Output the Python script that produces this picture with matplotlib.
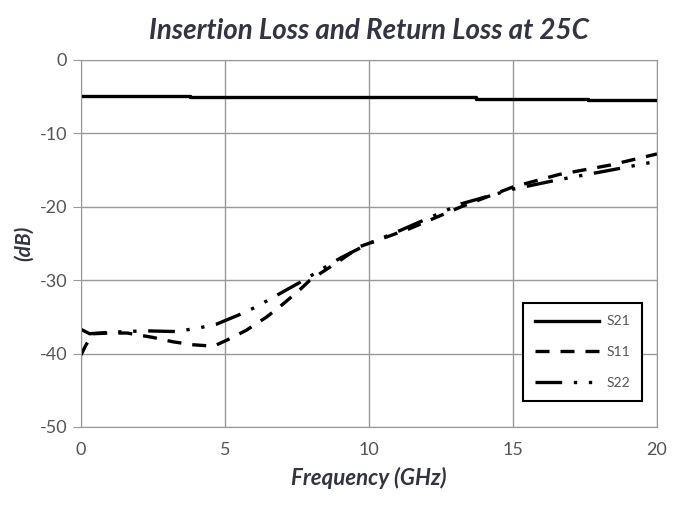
import matplotlib.pyplot as plt
import numpy as np

plt.rcParams['axes.unicode_minus'] = False
plt.rcParams['font.family'] = ['Lato', 'DejaVu Sans']

# frequency points (GHz) and curves
freq_s21 = [0, 3.8, 3.8, 13.7, 13.7, 17.6, 17.6, 20]
s21 = [-4.9, -4.9, -5.1, -5.1, -5.3, -5.3, -5.5, -5.5]

freq_s11 = [0, 0.15, 0.4, 1.0, 1.6, 2.5, 3.2, 3.9, 4.6, 5.1, 5.75, 6.45, 7.0,
            7.6, 7.95, 9.0, 9.7, 11.4, 13.2, 15.0, 16.6, 18.4, 20]
s11 = [-40.2, -39.0, -37.3, -37.2, -37.2, -37.8, -38.4, -38.8, -39.0, -38.1,
       -36.8, -35.0, -33.3, -31.3, -30.0, -27.3, -25.4, -23.0, -20.0, -17.3,
       -15.6, -14.3, -12.8]

freq_s22 = [0, 0.3, 1.0, 2.2, 3.3, 4.1, 4.7, 5.5, 6.1, 7.6, 9.0, 10.0, 11.1,
            13.2, 15.0, 16.6, 18.4, 20]
s22 = [-36.7, -37.3, -37.1, -36.9, -37.0, -36.5, -36.0, -34.7, -33.6, -30.3,
       -27.0, -25.0, -23.2, -19.6, -17.6, -16.3, -15.0, -13.8]

xticks = [0, 5, 10, 15, 20]
yticks = [0, -10, -20, -30, -40, -50]

fig = plt.figure(figsize=(6.87, 5.14), dpi=100)
ax = fig.add_axes([0.1179, 0.1693, 0.8384, 0.714])

ax.plot(freq_s21, s21, color='black', lw=2.4, label='S21')
ax.plot(freq_s11, s11, color='black', lw=2.4, dashes=(4.2, 3.3), label='S11')
ax.plot(freq_s22, s22, color='black', lw=2.4, dashes=(8, 3.5, 1, 3.5, 1, 3.5), label='S22')

ax.set_xlim(0, 20)
ax.set_ylim(-50, 0)
ax.set_xticks(xticks)
ax.set_yticks(yticks)
ax.grid(True, color='#999999', lw=1)
ax.set_axisbelow(True)
for s in ax.spines.values():
    s.set_color('#999999')
ax.tick_params(axis='x', length=0, pad=11, labelsize=13, colors='#555555')
ax.tick_params(axis='y', length=6, color='#999999', pad=4, labelsize=13, labelcolor='#555555')

ax.set_title('Insertion Loss and Return Loss at 25C', fontsize=20, fontweight='bold',
             style='italic', color='#333344', pad=15)
ax.set_xlabel('Frequency (GHz)', fontsize=16, fontweight='bold', style='italic',
              color='#333344', labelpad=6)
ax.set_ylabel('(dB)', fontsize=15, fontweight='bold', style='italic',
              color='#333344', labelpad=4)

leg = ax.legend(loc='upper left', bbox_to_anchor=(0.767, 0.338), borderaxespad=0,
                fontsize=10, handlelength=4.6, labelspacing=1.35, fancybox=False,
                edgecolor='black', framealpha=1, borderpad=0.9, handletextpad=0.5)
leg.get_frame().set_linewidth(1.5)
for t in leg.get_texts():
    t.set_color('#555555')

fig.savefig('out.png', dpi=100)
